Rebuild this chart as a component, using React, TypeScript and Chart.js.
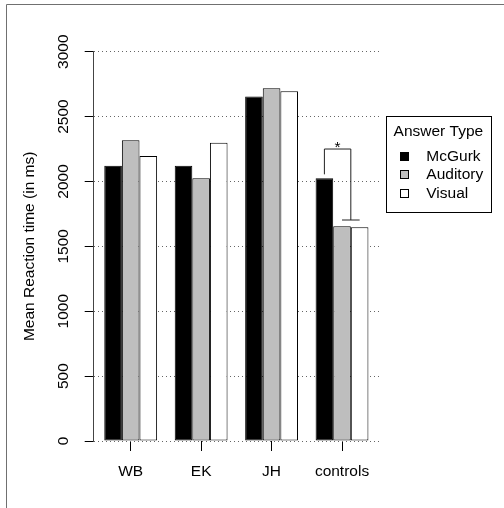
import React, { useEffect, useRef } from 'react';
import { Chart, registerables } from 'chart.js';
Chart.register(...registerables);

const categories = ['WB', 'EK', 'JH', 'controls'];
const seriesNames = ['McGurk', 'Auditory', 'Visual'];
const mcgurk = [2121, 2121, 2655, 2024];
const auditory = [2317, 2024, 2718, 1654];
const visual = [2196, 2299, 2696, 1647];
const seriesColors = ['#000000', '#bebebe', '#ffffff'];
const yTicks = [0, 500, 1000, 1500, 2000, 2500, 3000];
const yTitle = 'Mean Reaction time (in ms)';
const legendTitle = 'Answer Type';
// significance bracket: left foot, top, right foot (in ms)
const bracketValues = [2055, 2250, 1703];
const bracketLabel = '*';

const FONT_FAMILY = "'Liberation Sans', Arial, Helvetica, sans-serif";
const FONT_SIZE = 15.5;
const fontStr = `${FONT_SIZE}px ${FONT_FAMILY}`;

const overlayPlugin = {
  id: 'overlay',
  afterDraw(chart: any) {
    const ctx = chart.ctx as CanvasRenderingContext2D;
    const ys = chart.scales.y;
    ctx.save();
    // outer frame (left and top edges)
    ctx.strokeStyle = '#707070';
    ctx.lineWidth = 1;
    ctx.beginPath();
    ctx.moveTo(6.5, 508);
    ctx.lineTo(6.5, 4.5);
    ctx.lineTo(504, 4.5);
    ctx.stroke();

    // significance bracket over "controls"
    const last = categories.length - 1;
    const b0 = chart.getDatasetMeta(0).data[last];
    const b1 = chart.getDatasetMeta(1).data[last];
    const b2 = chart.getDatasetMeta(2).data[last];
    const xl = b0.x;
    const xr = (b1.x + b2.x) / 2;
    const w = b1.width;
    const yl = ys.getPixelForValue(bracketValues[0]);
    const yt = ys.getPixelForValue(bracketValues[1]);
    const yr = ys.getPixelForValue(bracketValues[2]);
    ctx.strokeStyle = '#222';
    ctx.beginPath();
    ctx.moveTo(xl, yl);
    ctx.lineTo(xl, yt);
    ctx.lineTo(xr, yt);
    ctx.lineTo(xr, yr);
    ctx.moveTo(xr - w / 2, yr);
    ctx.lineTo(xr + w / 2, yr);
    ctx.stroke();
    ctx.fillStyle = '#000';
    ctx.font = fontStr;
    ctx.textAlign = 'center';
    ctx.textBaseline = 'alphabetic';
    ctx.fillText(bracketLabel, (xl + xr) / 2, yt + 3);

    // legend
    const L = 385.7, T = 115.7, R = 491, B = 212;
    ctx.strokeStyle = '#000';
    ctx.strokeRect(Math.round(L) + 0.5, Math.round(T) + 0.5, Math.round(R - L), Math.round(B - T));
    ctx.fillStyle = '#000';
    ctx.textAlign = 'center';
    ctx.fillText(legendTitle, (L + R) / 2, 136.3);
    ctx.textAlign = 'left';
    chart.data.datasets.forEach((ds: any, i: number) => {
      const bl = 160.7 + i * 18.5;
      ctx.fillStyle = ds.backgroundColor;
      ctx.fillRect(400.5, Math.round(bl - 9) + 0.5, 8, 8);
      ctx.strokeStyle = '#000';
      ctx.strokeRect(400.5, Math.round(bl - 9) + 0.5, 8, 8);
      ctx.fillStyle = '#000';
      ctx.fillText(ds.label, 426.3, bl);
    });
    ctx.restore();
  },
};

export default function App() {
  const ref = useRef<HTMLCanvasElement | null>(null);
  useEffect(() => {
    if (!ref.current) return;
    Chart.defaults.font.family = FONT_FAMILY;
    Chart.defaults.font.size = FONT_SIZE;
    Chart.defaults.color = '#000';
    const seriesValues = [mcgurk, auditory, visual];
    const chart = new Chart(ref.current, {
      type: 'bar',
      data: {
        datasets: seriesNames.map((name, si) => ({
          label: name,
          data: categories.map((_, ci) => ({ x: ci, y: seriesValues[si][ci] })),
          backgroundColor: seriesColors[si],
          borderColor: '#000',
          borderWidth: 1,
          borderSkipped: false,
          categoryPercentage: 0.75,
          barPercentage: 1.0,
        })),
      },
      options: {
        animation: false,
        responsive: false,
        devicePixelRatio: 1,
        layout: { padding: { top: 51.7, right: 125, bottom: 0, left: 0 } },
        plugins: { legend: { display: false }, tooltip: { enabled: false } },
        scales: {
          x: {
            type: 'linear',
            min: -0.525,
            max: 3.525,
            offset: false,
            afterBuildTicks: (scale: any) => {
              scale.ticks = categories.map((_, i) => ({ value: i }));
            },
            afterFit: (scale: any) => {
              scale.height = 67;
            },
            ticks: {
              autoSkip: false,
              maxRotation: 0,
              minRotation: 0,
              padding: 11,
              color: '#000',
              callback: (v: any) => categories[v as number] ?? '',
            },
            grid: {
              display: true,
              offset: false,
              drawOnChartArea: false,
              drawTicks: true,
              tickLength: 10,
              tickColor: '#000',
            },
            border: { display: false },
          },
          y: {
            type: 'linear',
            min: 0,
            max: 3000,
            afterBuildTicks: (scale: any) => {
              scale.ticks = yTicks.map((v) => ({ value: v }));
            },
            afterFit: (scale: any) => {
              scale.width = 93.7;
            },
            ticks: {
              minRotation: 90,
              maxRotation: 90,
              crossAlign: 'center',
              padding: 3.3,
              color: '#000',
              callback: (v: any) => String(v),
            },
            grid: {
              display: true,
              drawOnChartArea: true,
              drawTicks: true,
              tickLength: 9,
              color: '#666',
              tickColor: '#000',
              tickBorderDash: [],
            },
            border: { display: true, color: '#444', width: 1, dash: [1, 3] },
            title: {
              display: true,
              text: yTitle,
              color: '#000',
              padding: { top: 20, bottom: 0 },
            },
          },
        },
      },
      plugins: [overlayPlugin],
    } as any);
    return () => chart.destroy();
  }, []);
  return (
    <div style={{ position: 'fixed', left: 0, top: 0, width: 504, height: 508, background: '#fff' }}>
      <canvas ref={ref} width={504} height={508} style={{ display: 'block' }} />
    </div>
  );
}
